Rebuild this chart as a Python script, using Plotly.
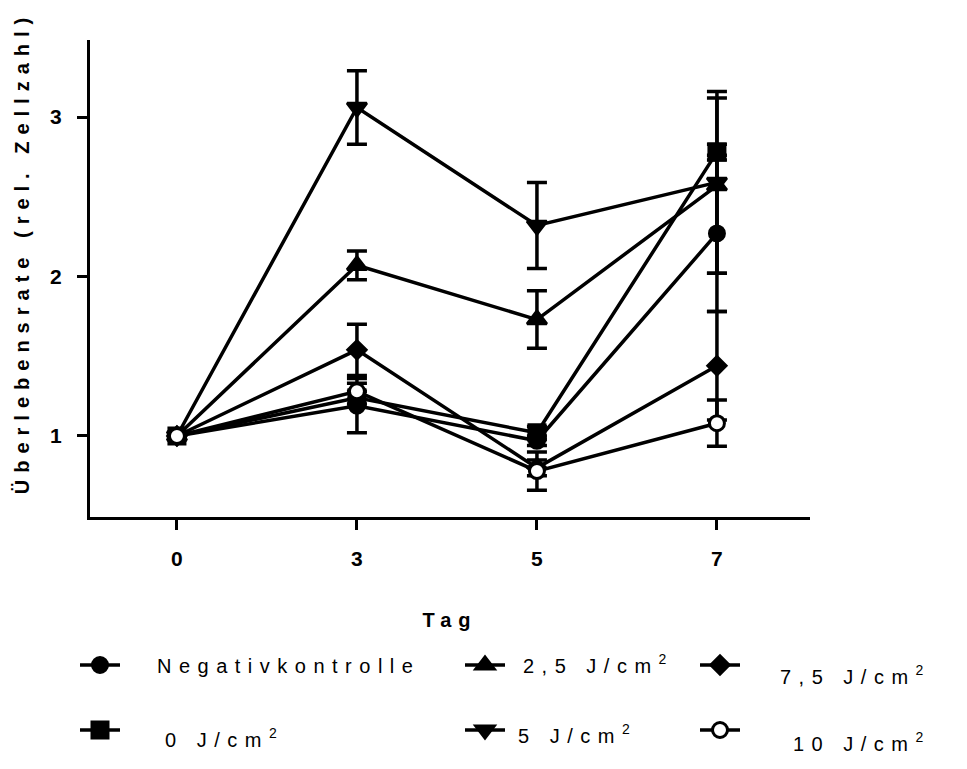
import plotly.graph_objects as go

days = ["0", "3", "5", "7"]

neg = [1.00, 1.19, 0.97, 2.27]
neg_err = [0.0, 0.17, 0.03, 0.49]
j0 = [1.00, 1.24, 1.02, 2.78]
j0_err = [0.0, 0.04, 0.04, 0.05]
j25 = [1.00, 2.07, 1.73, 2.57]
j25_err = [0.0, 0.09, 0.18, 0.55]
j5 = [1.00, 3.06, 2.32, 2.59]
j5_err = [0.0, 0.23, 0.27, 0.57]
j75 = [1.00, 1.54, 0.80, 1.44]
j75_err = [0.0, 0.16, 0.05, 0.34]
j10 = [1.00, 1.28, 0.78, 1.08]
j10_err = [0.0, 0.05, 0.12, 0.145]

names = ["Negativkontrolle", "0 J/cm<sup>2</sup>", "2,5 J/cm<sup>2</sup>",
         "5 J/cm<sup>2</sup>", "7,5 J/cm<sup>2</sup>", "10 J/cm<sup>2</sup>"]
series = [neg, j0, j25, j5, j75, j10]
errors = [neg_err, j0_err, j25_err, j5_err, j75_err, j10_err]
symbols = ["circle", "square", "triangle-up", "triangle-down", "diamond", "circle"]
sizes = [15, 16, 17, 17, 14, 15]
fills = ["black", "black", "black", "black", "black", "white"]
legends = ["legend", "legend4", "legend2", "legend5", "legend3", "legend6"]

fig = go.Figure()
for nm, y, e, sym, sz, fc, lg in zip(names, series, errors, symbols, sizes, fills, legends):
    fig.add_trace(go.Scatter(
        x=days, y=y, name=nm, mode="lines+markers",
        line=dict(color="black", width=3.5),
        marker=dict(symbol=sym, size=sz, color=fc, line=dict(color="black", width=3)),
        error_y=dict(type="data", array=e, visible=True, color="black", thickness=3.5, width=10),
        legend=lg, showlegend=True,
    ))

FONT = "Liberation Sans, Arial, sans-serif"
leg_font = dict(family=FONT, size=20, color="black")

# page has an 8px body margin; plot area should sit at page x 90..810, y 40..517
def legpos(xpx, ypx):
    return dict(x=(xpx - 90) / 720, y=(517 - ypx) / 477, xanchor="left", yanchor="middle",
                font=leg_font, bgcolor="rgba(0,0,0,0)", borderwidth=0, itemwidth=40)

fig.update_layout(
    width=967, height=769,
    margin=dict(l=82, r=165, t=32, b=260, autoexpand=False),
    paper_bgcolor="white", plot_bgcolor="white",
    font=dict(family=FONT, color="black"),
    xaxis=dict(type="category", range=[-0.483, 3.517], showline=True, linewidth=3, linecolor="black",
               ticks="outside", ticklen=10, tickwidth=3, tickcolor="black", showgrid=False, zeroline=False,
               ticklabelstandoff=11,
               tickfont=dict(family=FONT, size=21, color="black", weight="bold"),
               title=dict(text="Tag", font=dict(family=FONT, size=20, color="black", weight="bold"), standoff=44)),
    yaxis=dict(range=[0.492, 3.483], showline=True, linewidth=3, linecolor="black",
               ticks="outside", ticklen=10, tickwidth=3, tickcolor="black", showgrid=False, zeroline=False,
               tickvals=[1, 2, 3], ticktext=["1", "2", "3"], ticklabelstandoff=11,
               tickfont=dict(family=FONT, size=21, color="black", weight="bold"),
               title=dict(text="Überlebensrate (rel. Zellzahl)", font=dict(family=FONT, size=20, color="black", weight="bold"), standoff=16)),
    legend=legpos(75, 665),
    legend2=legpos(460, 665),
    legend3=legpos(695, 665),
    legend4=legpos(75, 730),
    legend5=legpos(460, 730),
    legend6=legpos(695, 730),
    showlegend=True,
)

post = """
var gd = document.getElementById('{plot_id}');
function fixText() {
  gd.querySelectorAll('g[class^="legend"] [clip-path]').forEach(function(s){ s.removeAttribute('clip-path'); });
  var shifts = [['Negativ', 32, 0], ['10 J', 48, 13], ['0 J', 40, 9], ['2,5', 13, 0],
                ['5 J', 8, 5], ['7,5', 35, 11]];
  gd.querySelectorAll('text').forEach(function(t){
    var cls = t.getAttribute('class') || '';
    if (!/^legend\\d*text$/.test(cls)) return;
    var s = t.textContent;
    t.style.letterSpacing = '7.5px';
    for (var i = 0; i < shifts.length; i++) {
      if (s.indexOf(shifts[i][0]) === 0) {
        t.setAttribute('dx', shifts[i][1]);
        if (shifts[i][2]) t.setAttribute('dy', shifts[i][2]);
        break;
      }
    }
  });
  gd.querySelectorAll('.ytitle').forEach(function(t){ t.style.letterSpacing = '7px'; t.setAttribute('dx', 26); });
  gd.querySelectorAll('.xtitle').forEach(function(t){ t.style.letterSpacing = '7px'; });
}
fixText();
if (gd.on) { gd.on('plotly_afterplot', fixText); }
setTimeout(fixText, 30);
setTimeout(fixText, 200);
"""

fig.write_html("out.html", post_script=post)
